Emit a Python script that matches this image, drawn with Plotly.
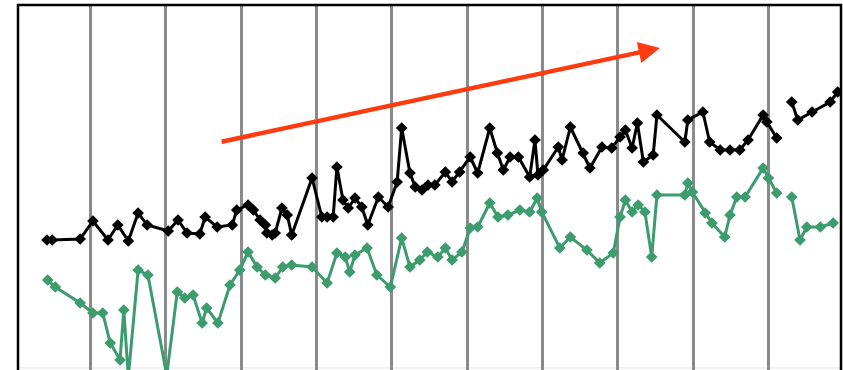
import plotly.graph_objects as go

# ---- data ----
black_x = [4.2, 4.9, 8.6, 10.3, 12.3, 13.6, 15.0, 16.3, 17.5, 20.3, 21.6, 22.8, 24.5, 25.2, 26.8,
           28.8, 29.4, 30.9, 31.6, 32.5, 33.2, 33.4, 34.1, 34.5, 35.4, 36.1, 36.7, 39.4, 40.7,
           41.4, 42.2, 42.7, 43.5, 44.2, 45.1, 46.0, 46.8, 48.2, 49.5, 50.7, 51.3, 52.4, 53.1,
           54.0, 54.8, 55.7, 57.1, 58.0, 59.0, 60.4, 61.4, 63.0, 64.0, 64.8, 65.7, 66.8, 68.3,
           69.0, 69.4, 70.1, 72.1, 72.6, 73.7, 75.4, 76.3, 77.9, 79.2, 80.3, 81.0, 81.9, 82.6,
           83.4, 84.7, 85.2, 88.9, 89.3, 91.3, 92.2, 93.6, 94.9, 96.2, 97.3, 99.3, 99.8, 101.1,
           None, 103.1, 103.9, 105.8, 108.2, 109.2]
black_y = [129, 129, 130, 148, 129, 144, 128, 156, 144, 138, 149, 136, 135, 152, 142,
           144, 159, 164, 159, 149, 144, 136, 134, 136, 161, 154, 134, 191, 152,
           152, 152, 202, 169, 161, 171, 162, 144, 172, 162, 187, 241, 196, 182,
           179, 184, 184, 197, 187, 197, 212, 196, 241, 216, 199, 212, 212, 192,
           229, 194, 199, 222, 209, 242, 216, 201, 222, 221, 232, 239, 221, 246,
           207, 214, 254, 227, 249, 257, 227, 219, 219, 219, 229, 254, 247, 231,
           None, 267, 249, 257, 267, 277]

green_x = [4.3, 5.3, 8.6, 10.3, 11.6, 12.6, 13.9, 14.4, 15.0, 16.3, 17.6, 20.1, 21.5, 22.5,
           23.6, 24.8, 25.4, 26.9, 28.5, 29.8, 30.9, 32.1, 33.2, 34.5, 35.5, 36.7, 39.4, 41.4,
           42.7, 43.8, 44.4, 45.1, 46.7, 48.0, 49.8, 51.3, 52.4, 53.7, 54.7, 56.1, 57.1, 58.0,
           59.3, 60.4, 61.4, 63.0, 64.1, 65.4, 67.0, 68.3, 69.3, 69.9, 72.3, 73.7, 75.9, 77.6,
           79.4, 80.3, 81.0, 81.9, 82.7, 83.6, 84.5, 85.2, 88.9, 89.3, 89.9, 91.6, 92.5, 94.2,
           94.9, 95.8, 96.9, 99.3, 100.0, 101.1, None, 103.1, 104.2, 105.1, 106.9, 108.6]
green_y = [89, 82, 66, 56, 56, 26, 9, 59, -8, 99, 94, -6, 77, 71,
           74, 46, 61, 46, 84, 99, 117, 102, 94, 91, 102, 104, 102, 86,
           116, 112, 97, 114, 121, 94, 82, 131, 102, 109, 117, 112, 121, 109,
           117, 141, 142, 166, 152, 154, 159, 157, 171, 157, 121, 132, 119, 106,
           116, 152, 169, 157, 164, 157, 112, 174, 174, 186, 177, 156, 146, 132,
           154, 172, 172, 201, 191, 176, None, 172, 129, 142, 142, 146]

arrow_tail = (27.2, 227)
arrow_tip = (85.6, 321)

x_range = [0.35, 109.64]
y_range = [-1, 364]

fig = go.Figure()
fig.add_trace(go.Scatter(
    x=green_x, y=green_y, mode="lines+markers", connectgaps=False,
    line=dict(color="#3d9c6e", width=3),
    marker=dict(symbol="diamond", size=9, color="#3d9c6e"),
    showlegend=False, cliponaxis=True))
fig.add_trace(go.Scatter(
    x=black_x, y=black_y, mode="lines+markers", connectgaps=False,
    line=dict(color="#000000", width=3),
    marker=dict(symbol="diamond", size=9, color="#000000"),
    showlegend=False, cliponaxis=True))

fig.add_annotation(
    x=arrow_tip[0], y=arrow_tip[1], ax=arrow_tail[0], ay=arrow_tail[1],
    xref="x", yref="y", axref="x", ayref="y", text="",
    showarrow=True, arrowhead=2, arrowsize=0.95, arrowwidth=4.5,
    arrowcolor="#ff3b0f", standoff=0, startstandoff=0)

# frame: left, top, right in black; faint line near the bottom
fig.add_shape(type="rect", xref="paper", yref="paper", x0=0, x1=1, y0=-0.05, y1=1,
              line=dict(color="#000000", width=2.5), layer="above")
fig.add_shape(type="line", xref="paper", yref="y", x0=0, x1=1, y0=1, y1=1,
              line=dict(color="#e2e2e2", width=1), layer="below")

fig.update_xaxes(range=x_range, tick0=0, dtick=10, showgrid=True,
                 gridcolor="#8a8a8a", gridwidth=2.5, showticklabels=False,
                 zeroline=False, showline=False, ticks="")
fig.update_yaxes(range=y_range, showgrid=False, showticklabels=False,
                 zeroline=False, showline=False, ticks="")

fig.update_layout(
    width=843, height=370,
    margin=dict(l=18, r=2, t=5, b=0, pad=0),
    paper_bgcolor="white", plot_bgcolor="white",
    showlegend=False)

fig.write_html("out.html")
